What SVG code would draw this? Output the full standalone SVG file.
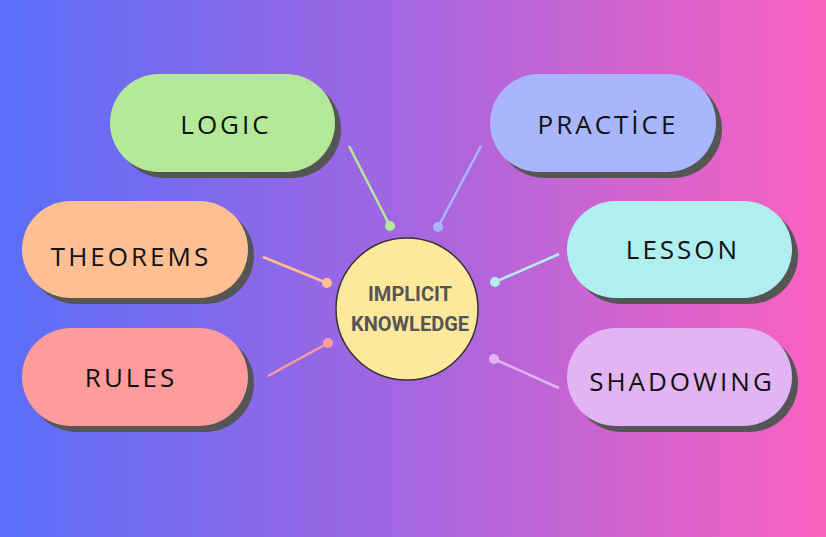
<svg xmlns="http://www.w3.org/2000/svg" width="826" height="537" viewBox="0 0 826 537">
<defs>
<linearGradient id="bg" x1="0" y1="0" x2="1" y2="0">
<stop offset="0" stop-color="#596ef9"/>
<stop offset="0.5" stop-color="#a566e0"/>
<stop offset="1" stop-color="#fb62c0"/>
</linearGradient>
<style>
.sh{fill:#555555}
.lbl{font-family:"Open Sans","Noto Sans",sans-serif;font-size:26px;letter-spacing:3px;fill:#111;text-anchor:middle;dominant-baseline:central}
.ln{stroke-width:2.5;fill:none}
</style>
</defs>
<rect width="826" height="537" fill="url(#bg)"/>
<g id="connectors">
<line class="ln" x1="349" y1="146" x2="390" y2="226" stroke="#b5e99a"/><circle cx="390" cy="226" r="5" fill="#b5e99a"/>
<line class="ln" x1="481" y1="146" x2="438" y2="227" stroke="#a9b5fc"/><circle cx="438" cy="227" r="5" fill="#a9b5fc"/>
<line class="ln" x1="263" y1="257" x2="327" y2="283" stroke="#ffbf93"/><circle cx="327" cy="283" r="5" fill="#ffbf93"/>
<line class="ln" x1="559" y1="254" x2="495" y2="282" stroke="#b0eef0"/><circle cx="495" cy="282" r="5" fill="#b0eef0"/>
<line class="ln" x1="268" y1="376" x2="328" y2="343" stroke="#fd9c9a"/><circle cx="328" cy="343" r="5" fill="#fd9c9a"/>
<line class="ln" x1="559" y1="388" x2="494" y2="359" stroke="#e3b4f3"/><circle cx="494" cy="359" r="5" fill="#e3b4f3"/>
</g>
<g id="logic"><rect class="sh" x="116" y="80" width="225" height="98" rx="49"/><rect x="110" y="74" width="225" height="98" rx="49" fill="#b5e99a"/><text class="lbl" x="226" y="124">LOGIC</text></g>
<g id="practice"><rect class="sh" x="496" y="80" width="226" height="98" rx="49"/><rect x="490" y="74" width="226" height="98" rx="49" fill="#a9b5fc"/><text class="lbl" x="608" y="124">PRACTİCE</text></g>
<g id="theorems"><rect class="sh" x="28" y="207" width="226" height="97" rx="48.5"/><rect x="22" y="201" width="226" height="97" rx="48.5" fill="#ffbf93"/><text class="lbl" x="131" y="256">THEOREMS</text></g>
<g id="lesson"><rect class="sh" x="573" y="207" width="225" height="97" rx="48.5"/><rect x="567" y="201" width="225" height="97" rx="48.5" fill="#b0eef0"/><text class="lbl" x="683" y="249">LESSON</text></g>
<g id="rules"><rect class="sh" x="28" y="334" width="226" height="98" rx="49"/><rect x="22" y="328" width="226" height="98" rx="49" fill="#fd9c9a"/><text class="lbl" x="131" y="377">RULES</text></g>
<g id="shadowing"><rect class="sh" x="573" y="334" width="225" height="98" rx="49"/><rect x="567" y="328" width="225" height="98" rx="49" fill="#e3b4f3"/><text class="lbl" x="682" y="381">SHADOWING</text></g>
<g id="center"><circle cx="407" cy="309" r="71" fill="#fde89c" stroke="#333" stroke-width="1.5"/>
<text x="410" y="294" font-family="Roboto,'Liberation Sans',sans-serif" font-weight="bold" font-size="20" fill="#555" text-anchor="middle" dominant-baseline="central">IMPLICIT</text>
<text x="410" y="324" font-family="Roboto,'Liberation Sans',sans-serif" font-weight="bold" font-size="20" fill="#555" text-anchor="middle" dominant-baseline="central">KNOWLEDGE</text></g>
</svg>
